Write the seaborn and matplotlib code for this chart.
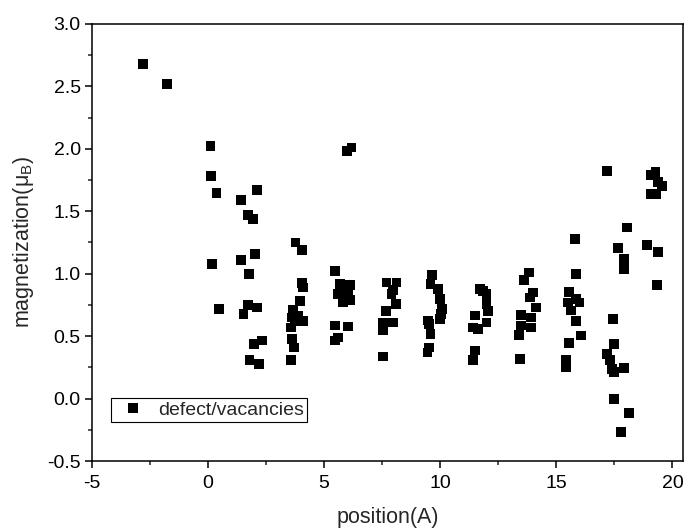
import numpy as np
import pandas as pd
import matplotlib
matplotlib.use("Agg")
import matplotlib.pyplot as plt
from matplotlib.ticker import MultipleLocator
import seaborn as sns

# position (A) and magnetization (mu_B)
position = [
    -2.81, -1.76, 0.11, 0.13, 0.37, 0.19, 0.46,
    1.44, 2.10, 1.73, 1.95, 1.44, 2.02, 1.77, 1.72, 1.53, 2.13, 2.00, 2.32, 1.79, 2.20,
    3.77, 4.04, 4.04, 4.11, 3.97, 3.68, 3.61, 4.08, 3.58, 3.61, 3.71, 3.57, 3.75, 3.90,
    5.97, 6.18, 5.47, 5.69, 6.12, 5.61, 6.04, 5.83, 6.12, 5.75, 5.47, 6.04, 5.61, 5.47,
    7.69, 8.12, 7.95, 8.09, 7.66, 7.55, 7.98, 7.55, 7.52, 7.90,
    9.63, 9.58, 9.91, 9.98, 10.06, 9.98, 9.48, 9.50, 9.58, 9.52, 9.45, 10.05,
    11.70, 11.99, 11.85, 11.99, 11.49, 11.99, 11.41, 11.63, 11.49, 11.41, 12.05,
    13.81, 13.61, 13.99, 13.85, 14.11, 13.49, 13.92, 13.92, 13.49, 13.39, 13.42,
    15.81, 15.86, 15.53, 15.86, 15.50, 16.00, 15.64, 15.86, 16.07, 15.54, 15.40, 15.40,
    17.19, 18.03, 17.67, 17.93, 17.90, 17.43, 17.47, 17.19, 17.32, 17.40, 17.47, 17.90,
    17.47, 18.12, 17.79,
    19.27, 19.08, 19.37, 19.55, 19.08, 19.30, 18.91, 19.36, 19.34,
]
magnetization = [
    2.68, 2.52, 2.02, 1.78, 1.645, 1.08, 0.72,
    1.59, 1.67, 1.47, 1.44, 1.11, 1.16, 1.00, 0.75, 0.68, 0.73, 0.44, 0.465, 0.31, 0.28,
    1.25, 1.19, 0.925, 0.89, 0.78, 0.71, 0.65, 0.62, 0.57, 0.48, 0.41, 0.31, 0.62, 0.66,
    1.98, 2.01, 1.02, 0.92, 0.91, 0.84, 0.84, 0.77, 0.79, 0.87, 0.586, 0.578, 0.49, 0.465,
    0.93, 0.93, 0.87, 0.76, 0.70, 0.61, 0.61, 0.546, 0.337, 0.84,
    0.99, 0.92, 0.88, 0.80, 0.72, 0.64, 0.626, 0.60, 0.52, 0.41, 0.37, 0.68,
    0.88, 0.84, 0.86, 0.76, 0.666, 0.61, 0.57, 0.56, 0.385, 0.31, 0.70,
    1.01, 0.95, 0.85, 0.81, 0.73, 0.67, 0.65, 0.57, 0.586, 0.51, 0.32,
    1.276, 1.00, 0.853, 0.80, 0.77, 0.77, 0.706, 0.62, 0.506, 0.444, 0.31, 0.25,
    1.82, 1.37, 1.206, 1.12, 1.04, 0.64, 0.44, 0.36, 0.31, 0.24, 0.21, 0.246,
    -0.003, -0.118, -0.265,
    1.816, 1.79, 1.736, 1.70, 1.635, 1.635, 1.228, 1.174, 0.907,
]
series_label = "defect/vacancies"

df = pd.DataFrame({"position": position, "magnetization": magnetization,
                   "kind": series_label})

sns.set_style("ticks")
plt.rcParams["font.family"] = ["Liberation Sans", "DejaVu Sans"]
plt.rcParams["mathtext.fontset"] = "custom"
plt.rcParams["mathtext.rm"] = "Liberation Sans"
plt.rcParams["axes.unicode_minus"] = False

fig = plt.figure(figsize=(6.85, 5.3), dpi=100)
ax = fig.add_axes([0.134, 0.130, 0.863, 0.825])

sns.scatterplot(data=df, x="position", y="magnetization", hue="kind",
                palette=["black"], marker="s", s=50, linewidth=0, ax=ax)

ax.set_xlim(-5, 20.45)
ax.set_ylim(-0.5, 3.0)
ax.xaxis.set_major_locator(MultipleLocator(5))
ax.xaxis.set_minor_locator(MultipleLocator(2.5))
ax.yaxis.set_major_locator(MultipleLocator(0.5))
ax.yaxis.set_minor_locator(MultipleLocator(0.25))
ax.yaxis.set_major_formatter(matplotlib.ticker.FormatStrFormatter("%.1f"))
ax.tick_params(which="major", direction="out", length=5, width=1.1, labelsize=14,
               colors="black", pad=3)
ax.tick_params(axis="x", which="major", pad=5)
ax.tick_params(which="minor", direction="out", length=3, width=1.1)
for sp in ax.spines.values():
    sp.set_linewidth(1.1)
    sp.set_color("black")

ax.set_xlabel("position(A)", fontsize=15.5, labelpad=11)
ax.set_ylabel("magnetization(μ$_\\mathregular{B}$)", fontsize=15.5, labelpad=8)

leg = ax.legend(loc="lower left", bbox_to_anchor=(0.032, 0.09), borderaxespad=0,
                fontsize=14, fancybox=False, framealpha=1, edgecolor="black",
                handletextpad=0.3, borderpad=0.15, markerscale=1)
leg.get_frame().set_linewidth(0.8)

fig.savefig("out.png", dpi=100)
